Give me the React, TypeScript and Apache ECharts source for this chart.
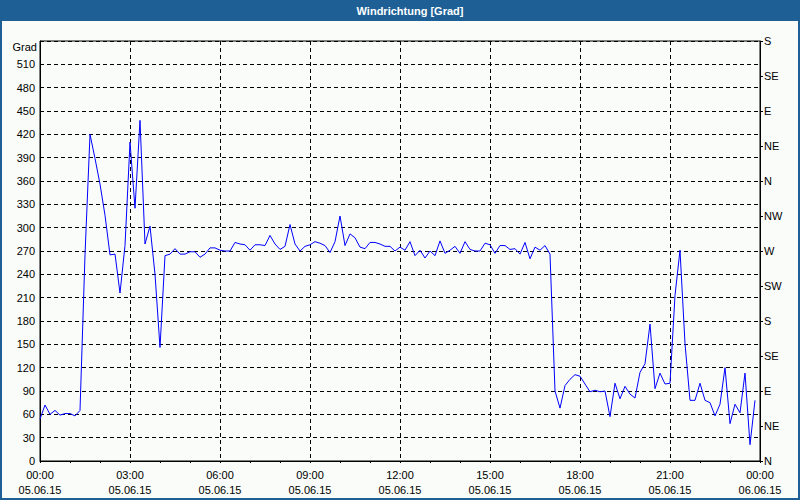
import { useEffect, useRef } from 'react';
import * as echarts from 'echarts';

const titleText = 'Windrichtung [Grad]';
const unitLabel = 'Grad';
const stepMinutes = 10;
const dateStart = '05.06.15';
const dateEnd = '06.06.15';
const compassLabels = ['N', 'NE', 'E', 'SE', 'S', 'SW', 'W', 'NW', 'N', 'NE', 'E', 'SE', 'S'];

// wind direction in degrees, every 10 minutes from 00:00
const directionValues = [
  54, 72, 60, 65, 59, 61, 61, 58, 65, 265,
  420, 389, 356, 316, 265, 266, 216, 277, 410, 325,
  438, 279, 302, 240, 146, 264, 266, 273, 266, 266,
  269, 269, 262, 266, 274, 274, 271, 270, 270, 281,
  279, 278, 271, 278, 278, 277, 290, 279, 272, 276,
  304, 279, 270, 276, 278, 282, 280, 277, 268, 282,
  315, 277, 292, 287, 275, 273, 281, 281, 279, 276,
  276, 270, 275, 271, 282, 264, 271, 261, 270, 264,
  283, 267, 271, 276, 267, 282, 272, 270, 270, 280,
  278, 267, 277, 277, 272, 273, 266, 281, 260, 275,
  271, 277, 266, 90, 68, 97, 105, 111, 109, 99,
  89, 91, 89, 90, 57, 100, 80, 96, 86, 81,
  114, 125, 176, 93, 113, 99, 100, 213, 271, 151,
  78, 78, 100, 78, 75, 58, 73, 120, 48, 73,
  62, 113, 21, 78,
];

const FONT = 'Liberation Sans';

export default function App() {
  const ref = useRef<HTMLDivElement>(null);
  useEffect(() => {
    if (!ref.current) return;
    const chart = echarts.init(ref.current, null, { renderer: 'svg' });
    const pad = (n: number) => (n < 10 ? '0' + n : String(n));
    chart.setOption({
      animation: false,
      backgroundColor: '#f9fcf9',
      grid: {
        left: 40,
        right: 40,
        top: 41,
        bottom: 39,
        containLabel: false,
        show: true,
        borderColor: '#000',
        borderWidth: 1,
        backgroundColor: 'transparent',
      },
      xAxis: {
        type: 'value',
        min: 0,
        max: 1440,
        interval: 180,
        axisLine: { show: true, lineStyle: { color: '#000', width: 1 } },
        axisTick: { show: true, length: 2, lineStyle: { color: '#000' } },
        minorTick: { show: true, splitNumber: 3, length: 2, lineStyle: { color: '#000' } },
        splitLine: { show: true, lineStyle: { color: '#000', type: [4, 3], width: 1 } },
        axisLabel: {
          color: '#000',
          fontFamily: FONT,
          fontSize: 11,
          lineHeight: 15,
          margin: 6,
          formatter: (v: number) => {
            const h = Math.floor(v / 60) % 24;
            return pad(h) + ':00\n' + (v >= 1440 ? dateEnd : dateStart);
          },
        },
      },
      yAxis: [
        {
          type: 'value',
          min: 0,
          max: 540,
          interval: 30,
          position: 'left',
          axisLine: { show: true, lineStyle: { color: '#000' } },
          axisTick: { show: false },
          splitLine: { show: true, lineStyle: { color: '#000', type: [4, 3], width: 1 } },
          axisLabel: {
            color: '#000',
            fontFamily: FONT,
            fontSize: 11,
            margin: 5,
            formatter: (v: number) => (v >= 540 ? '' : String(v)),
          },
        },
        {
          type: 'value',
          min: 0,
          max: 540,
          interval: 45,
          position: 'right',
          axisLine: { show: true, lineStyle: { color: '#000' } },
          axisTick: { show: true, length: 3, lineStyle: { color: '#000' } },
          splitLine: { show: false },
          axisLabel: {
            color: '#000',
            fontFamily: FONT,
            fontSize: 11,
            margin: 4,
            formatter: (v: number) => compassLabels[Math.round(v / 45)] ?? '',
          },
        },
      ],
      series: [
        {
          type: 'line',
          yAxisIndex: 0,
          data: directionValues.map((v, i) => [i * stepMinutes, v]),
          showSymbol: false,
          symbol: 'none',
          lineStyle: { color: '#0000ff', width: 1 },
          itemStyle: { color: '#0000ff' },
        },
      ],
      graphic: [
        {
          type: 'rect',
          shape: { x: 0, y: 0, width: 800, height: 21 },
          style: { fill: '#1e5f95' },
          silent: true,
        },
        {
          type: 'rect',
          shape: { x: 1, y: 1, width: 798, height: 498 },
          style: { fill: 'none', stroke: '#1e5f95', lineWidth: 2 },
          silent: true,
        },
        {
          type: 'text',
          x: 410,
          y: 11,
          style: {
            text: titleText,
            fill: '#fff',
            font: 'bold 11px "Liberation Sans"',
            textAlign: 'center',
            textVerticalAlign: 'middle',
          },
        },
        {
          type: 'text',
          x: 37,
          y: 47,
          style: {
            text: unitLabel,
            fill: '#000',
            font: '11px "Liberation Sans"',
            textAlign: 'right',
            textVerticalAlign: 'middle',
          },
        },
      ],
    });
    return () => chart.dispose();
  }, []);
  return <div ref={ref} style={{ position: 'fixed', left: 0, top: 0, width: 800, height: 500 }} />;
}
